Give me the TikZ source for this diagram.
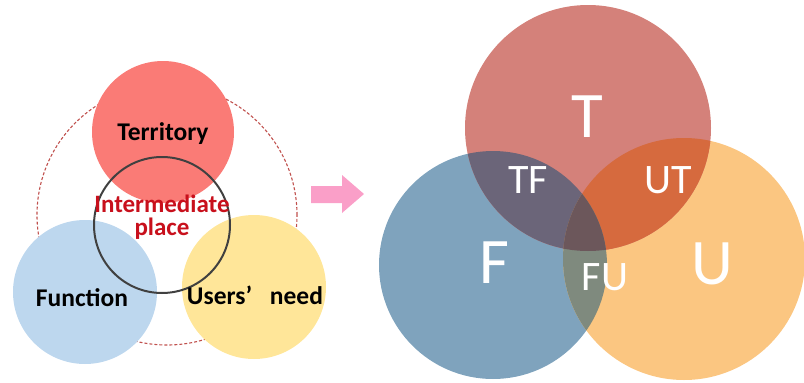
\documentclass[tikz,border=0pt]{standalone}
\usepackage{fontspec}
\setmainfont{Carlito}
\definecolor{terr}{HTML}{FA7B76}
\definecolor{func}{HTML}{BDD7EE}
\definecolor{user}{HTML}{FFE699}
\definecolor{dashred}{HTML}{C0504D}
\definecolor{midred}{HTML}{C8101C}
\definecolor{ringgray}{HTML}{404040}
\definecolor{arrowpink}{HTML}{FA9FC8}
\definecolor{cT}{HTML}{D4817A}
\definecolor{cF}{HTML}{7FA3BD}
\definecolor{cU}{HTML}{FBC681}
\definecolor{cTF}{HTML}{6B6579}
\definecolor{cUT}{HTML}{D66A3E}
\definecolor{cFU}{HTML}{7F8A7E}
\definecolor{cTFU}{HTML}{6C575B}
\tikzset{
  lbl/.style={anchor=base, inner sep=0pt, font=\bfseries\fontsize{25.5}{30}\selectfont, text=black},
  midlbl/.style={anchor=base, inner sep=0pt, align=center, font=\bfseries\fontsize{25}{23}\selectfont, text=midred},
  biglbl/.style={anchor=base, inner sep=0pt, text=white, font=\fontsize{65}{70}\selectfont},
  smalllbl/.style={anchor=base, inner sep=0pt, text=white, font=\fontsize{42}{46}\selectfont},
}
\begin{document}
\begin{tikzpicture}[x=1pt,y=-1pt]
\useasboundingbox (0,0) rectangle (804,383);
% ---- left diagram ----
\draw[dashred, line width=1.1pt, dash pattern=on 3pt off 2pt] (167,215) circle[radius=130pt];
\fill[func] (85,292) circle[radius=72pt];
\fill[user] (254,287) circle[radius=72pt];
\fill[terr] (163,132) circle[radius=71pt];
\draw[ringgray, line width=2pt] (162,225) circle[radius=68pt];
\node[lbl] (territory) at (163,140) {Territory};
\node[lbl] (function) at (82,306) {Function};
\node[lbl] (users) at (255,304) {Users’\hspace{0.7em}need};
\node[midlbl] (inter) at (162,235) {Intermediate\\place};
% ---- arrow ----
\fill[arrowpink] (311,186) -- (342,186) -- (342,175) -- (364,194) -- (342,213) -- (342,203) -- (311,203) -- cycle;
% ---- right diagram ----
\coordinate (cT) at (588,128);
\coordinate (cF) at (493,265);
\coordinate (cU) at (684,259);
\def\rT{123pt}\def\rF{114pt}\def\rU{121pt}
\fill[cF] (cF) circle[radius=\rF];
\fill[cU] (cU) circle[radius=\rU];
\fill[cT] (cT) circle[radius=\rT];
\begin{scope}
  \clip (cT) circle[radius=\rT];
  \fill[cTF] (cF) circle[radius=\rF];
  \fill[cUT] (cU) circle[radius=\rU];
\end{scope}
\begin{scope}
  \clip (cF) circle[radius=\rF];
  \fill[cFU] (cU) circle[radius=\rU];
\end{scope}
\begin{scope}
  \clip (cT) circle[radius=\rT];
  \clip (cF) circle[radius=\rF];
  \fill[cTFU] (cU) circle[radius=\rU];
\end{scope}
\node[biglbl] (T) at (587,137) {T};
\node[biglbl] (F) at (494,283) {F};
\node[biglbl] (U) at (712,284) {U};
\node[smalllbl] (TF) at (528,193) {TF};
\node[smalllbl] (UT) at (668,193) {UT};
\node[smalllbl] (FU) at (605,290) {FU};
\end{tikzpicture}
\end{document}
